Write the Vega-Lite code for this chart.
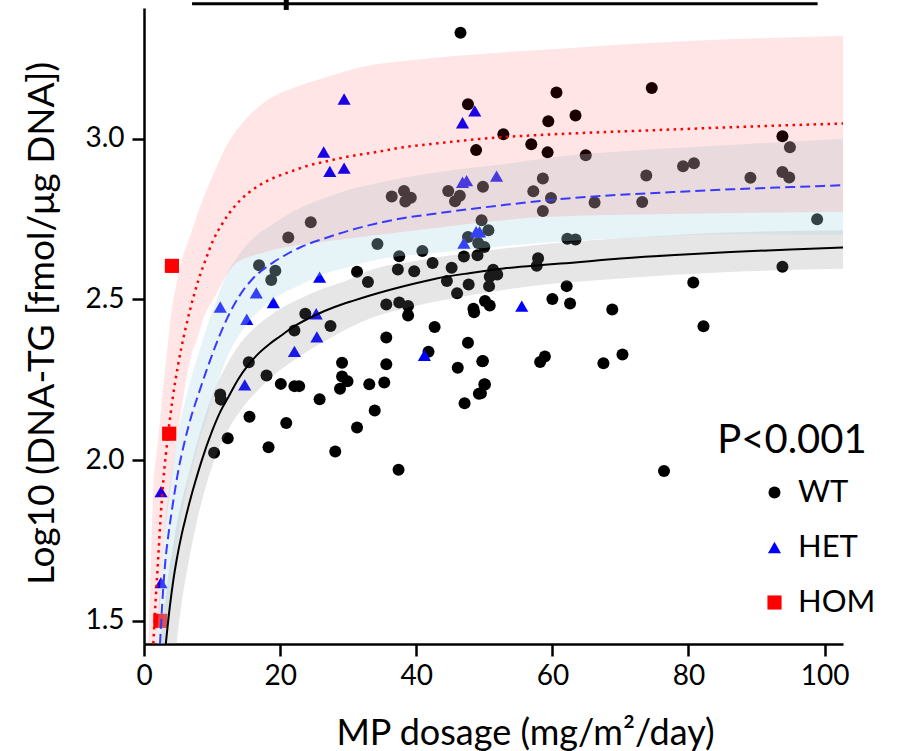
{
  "$schema": "https://vega.github.io/schema/vega-lite/v6.json",
  "width": 699,
  "height": 636,
  "autosize": {"type": "none"},
  "padding": {"left": 144, "top": 8, "right": 56, "bottom": 107},
  "background": "white",
  "config": {"view": {"stroke": null}, "font": "Lato"},
  "datasets": {
    "pts": [
      {"g":"WT","x":46.5,"y":3.329},{"g":"WT","x":47.6,"y":3.107},{"g":"WT","x":48.8,"y":2.964},{"g":"WT","x":60.6,"y":3.143},{"g":"WT","x":59.4,"y":3.054},{"g":"WT","x":63.4,"y":3.072},{"g":"WT","x":52.8,"y":3.013},{"g":"WT","x":56.9,"y":2.982},{"g":"WT","x":59.3,"y":2.957},{"g":"WT","x":64.9,"y":2.948},{"g":"WT","x":74.6,"y":3.157},{"g":"WT","x":93.8,"y":3.007},{"g":"WT","x":94.9,"y":2.973},{"g":"WT","x":73.8,"y":2.885},{"g":"WT","x":79.2,"y":2.914},{"g":"WT","x":80.8,"y":2.923},{"g":"WT","x":89.1,"y":2.878},{"g":"WT","x":93.8,"y":2.896},{"g":"WT","x":94.8,"y":2.879},{"g":"WT","x":49.8,"y":2.85},{"g":"WT","x":58.6,"y":2.876},{"g":"WT","x":57.2,"y":2.836},{"g":"WT","x":59.8,"y":2.815},{"g":"WT","x":58.6,"y":2.775},{"g":"WT","x":66.2,"y":2.801},{"g":"WT","x":73.2,"y":2.803},{"g":"WT","x":98.9,"y":2.749},{"g":"WT","x":49.6,"y":2.746},{"g":"WT","x":50.6,"y":2.715},{"g":"WT","x":62.2,"y":2.688},{"g":"WT","x":63.4,"y":2.686},{"g":"WT","x":57.9,"y":2.628},{"g":"WT","x":57.7,"y":2.604},{"g":"WT","x":93.8,"y":2.601},{"g":"WT","x":51.3,"y":2.592},{"g":"WT","x":51.9,"y":2.577},{"g":"WT","x":50.8,"y":2.57},{"g":"WT","x":50.7,"y":2.541},{"g":"WT","x":62.1,"y":2.541},{"g":"WT","x":80.7,"y":2.552},{"g":"WT","x":50.1,"y":2.495},{"g":"WT","x":50.8,"y":2.481},{"g":"WT","x":60.0,"y":2.501},{"g":"WT","x":62.6,"y":2.487},{"g":"WT","x":68.8,"y":2.468},{"g":"WT","x":82.2,"y":2.416},{"g":"WT","x":49.8,"y":2.308},{"g":"WT","x":58.2,"y":2.305},{"g":"WT","x":58.9,"y":2.322},{"g":"WT","x":67.5,"y":2.301},{"g":"WT","x":70.3,"y":2.328},{"g":"WT","x":50.1,"y":2.235},{"g":"WT","x":49.5,"y":2.208},{"g":"WT","x":76.4,"y":1.966},{"g":"WT","x":36.4,"y":2.82},{"g":"WT","x":38.2,"y":2.837},{"g":"WT","x":38.4,"y":2.804},{"g":"WT","x":39.2,"y":2.816},{"g":"WT","x":44.7,"y":2.837},{"g":"WT","x":46.4,"y":2.822},{"g":"WT","x":45.7,"y":2.805},{"g":"WT","x":47.6,"y":2.694},{"g":"WT","x":34.3,"y":2.672},{"g":"WT","x":40.9,"y":2.65},{"g":"WT","x":37.5,"y":2.634},{"g":"WT","x":49.1,"y":2.675},{"g":"WT","x":50.0,"y":2.663},{"g":"WT","x":47.0,"y":2.633},{"g":"WT","x":49.0,"y":2.637},{"g":"WT","x":42.4,"y":2.613},{"g":"WT","x":37.3,"y":2.593},{"g":"WT","x":39.7,"y":2.587},{"g":"WT","x":45.2,"y":2.598},{"g":"WT","x":44.5,"y":2.557},{"g":"WT","x":47.7,"y":2.546},{"g":"WT","x":46.0,"y":2.519},{"g":"WT","x":32.9,"y":2.554},{"g":"WT","x":35.6,"y":2.484},{"g":"WT","x":37.5,"y":2.49},{"g":"WT","x":38.8,"y":2.479},{"g":"WT","x":48.4,"y":2.471},{"g":"WT","x":38.8,"y":2.45},{"g":"WT","x":48.5,"y":2.46},{"g":"WT","x":42.7,"y":2.414},{"g":"WT","x":35.6,"y":2.381},{"g":"WT","x":47.6,"y":2.365},{"g":"WT","x":41.8,"y":2.337},{"g":"WT","x":35.6,"y":2.298},{"g":"WT","x":49.7,"y":2.307},{"g":"WT","x":46.1,"y":2.287},{"g":"WT","x":35.3,"y":2.241},{"g":"WT","x":33.1,"y":2.236},{"g":"WT","x":50.0,"y":2.236},{"g":"WT","x":49.2,"y":2.206},{"g":"WT","x":47.1,"y":2.177},{"g":"WT","x":33.9,"y":2.154},{"g":"WT","x":37.4,"y":1.97},{"g":"WT","x":23.7,"y":2.455},{"g":"WT","x":27.4,"y":2.417},{"g":"WT","x":22.1,"y":2.403},{"g":"WT","x":15.4,"y":2.304},{"g":"WT","x":18.0,"y":2.263},{"g":"WT","x":20.1,"y":2.237},{"g":"WT","x":22.1,"y":2.23},{"g":"WT","x":22.8,"y":2.23},{"g":"WT","x":11.2,"y":2.204},{"g":"WT","x":11.3,"y":2.188},{"g":"WT","x":15.5,"y":2.135},{"g":"WT","x":20.9,"y":2.115},{"g":"WT","x":12.3,"y":2.068},{"g":"WT","x":10.3,"y":2.023},{"g":"WT","x":18.3,"y":2.04},{"g":"WT","x":28.1,"y":2.027},{"g":"WT","x":29.1,"y":2.303},{"g":"WT","x":29.1,"y":2.26},{"g":"WT","x":29.9,"y":2.245},{"g":"WT","x":28.8,"y":2.222},{"g":"WT","x":25.8,"y":2.189},{"g":"WT","x":31.3,"y":2.101},{"g":"WT","x":24.5,"y":2.74},{"g":"WT","x":21.2,"y":2.692},{"g":"WT","x":16.9,"y":2.606},{"g":"WT","x":19.3,"y":2.589},{"g":"WT","x":18.7,"y":2.56},{"g":"WT","x":31.3,"y":2.586},
      {"g":"HET","x":2.5,"y":1.902},{"g":"HET","x":2.5,"y":1.619},{"g":"HET","x":11.2,"y":2.476},{"g":"HET","x":14.8,"y":2.234},{"g":"HET","x":15.1,"y":2.438},{"g":"HET","x":16.5,"y":2.52},{"g":"HET","x":19.0,"y":2.49},{"g":"HET","x":22.1,"y":2.338},{"g":"HET","x":25.3,"y":2.455},{"g":"HET","x":25.4,"y":2.383},{"g":"HET","x":25.8,"y":2.569},{"g":"HET","x":26.4,"y":2.958},{"g":"HET","x":27.3,"y":2.898},{"g":"HET","x":29.4,"y":2.908},{"g":"HET","x":29.4,"y":3.123},{"g":"HET","x":41.2,"y":2.326},{"g":"HET","x":46.8,"y":3.049},{"g":"HET","x":48.6,"y":3.086},{"g":"HET","x":46.8,"y":2.864},{"g":"HET","x":47.4,"y":2.869},{"g":"HET","x":51.8,"y":2.883},{"g":"HET","x":48.8,"y":2.71},{"g":"HET","x":49.3,"y":2.71},{"g":"HET","x":47.0,"y":2.675},{"g":"HET","x":55.5,"y":2.479},
      {"g":"HOM","x":4.1,"y":2.604},{"g":"HOM","x":3.7,"y":2.082},{"g":"HOM","x":2.4,"y":1.5}
    ],
    "curves": [
      {"c":"WT","x":3.2,"y":1.428},{"c":"WT","x":3.8,"y":1.545},{"c":"WT","x":4.3,"y":1.625},{"c":"WT","x":4.8,"y":1.69},{"c":"WT","x":5.5,"y":1.765},{"c":"WT","x":6.0,"y":1.81},{"c":"WT","x":7.0,"y":1.893},{"c":"WT","x":7.5,"y":1.93},{"c":"WT","x":8.5,"y":2.0},{"c":"WT","x":10,"y":2.09},{"c":"WT","x":11.2,"y":2.15},{"c":"WT","x":12.5,"y":2.2},{"c":"WT","x":13.8,"y":2.25},{"c":"WT","x":15.3,"y":2.295},{"c":"WT","x":17,"y":2.335},{"c":"WT","x":18.5,"y":2.362},{"c":"WT","x":20,"y":2.385},{"c":"WT","x":22,"y":2.415},{"c":"WT","x":25.3,"y":2.452},{"c":"WT","x":28,"y":2.476},{"c":"WT","x":30.8,"y":2.496},{"c":"WT","x":33.2,"y":2.512},{"c":"WT","x":38,"y":2.54},{"c":"WT","x":43,"y":2.565},{"c":"WT","x":48,"y":2.582},{"c":"WT","x":52.8,"y":2.596},{"c":"WT","x":58,"y":2.606},{"c":"WT","x":61.2,"y":2.611},{"c":"WT","x":70,"y":2.627},{"c":"WT","x":78,"y":2.638},{"c":"WT","x":86.2,"y":2.647},{"c":"WT","x":95,"y":2.655},{"c":"WT","x":103,"y":2.661},
      {"c":"HET","x":2.35,"y":1.428},{"c":"HET","x":2.7,"y":1.56},{"c":"HET","x":3.1,"y":1.677},{"c":"HET","x":3.6,"y":1.77},{"c":"HET","x":4.07,"y":1.84},{"c":"HET","x":5.04,"y":1.967},{"c":"HET","x":6,"y":2.06},{"c":"HET","x":7,"y":2.14},{"c":"HET","x":8,"y":2.205},{"c":"HET","x":9.2,"y":2.28},{"c":"HET","x":10.5,"y":2.355},{"c":"HET","x":12.2,"y":2.44},{"c":"HET","x":14,"y":2.51},{"c":"HET","x":15.8,"y":2.56},{"c":"HET","x":19,"y":2.615},{"c":"HET","x":20.7,"y":2.637},{"c":"HET","x":23,"y":2.662},{"c":"HET","x":26.6,"y":2.69},{"c":"HET","x":30,"y":2.713},{"c":"HET","x":34,"y":2.735},{"c":"HET","x":38,"y":2.752},{"c":"HET","x":43,"y":2.767},{"c":"HET","x":48,"y":2.781},{"c":"HET","x":52.8,"y":2.793},{"c":"HET","x":58.2,"y":2.806},{"c":"HET","x":61.2,"y":2.812},{"c":"HET","x":70,"y":2.825},{"c":"HET","x":78,"y":2.834},{"c":"HET","x":86.2,"y":2.842},{"c":"HET","x":95,"y":2.849},{"c":"HET","x":103,"y":2.855},
      {"c":"HOM","x":1.37,"y":1.43},{"c":"HOM","x":1.7,"y":1.56},{"c":"HOM","x":2.1,"y":1.7},{"c":"HOM","x":2.5,"y":1.84},{"c":"HOM","x":2.84,"y":1.935},{"c":"HOM","x":3.57,"y":2.085},{"c":"HOM","x":4.2,"y":2.19},{"c":"HOM","x":5.0,"y":2.295},{"c":"HOM","x":5.5,"y":2.35},{"c":"HOM","x":6.8,"y":2.47},{"c":"HOM","x":8,"y":2.56},{"c":"HOM","x":9,"y":2.62},{"c":"HOM","x":10.2,"y":2.685},{"c":"HOM","x":11.5,"y":2.735},{"c":"HOM","x":12.6,"y":2.77},{"c":"HOM","x":14,"y":2.805},{"c":"HOM","x":16.6,"y":2.85},{"c":"HOM","x":19,"y":2.877},{"c":"HOM","x":21.5,"y":2.897},{"c":"HOM","x":24,"y":2.915},{"c":"HOM","x":27.4,"y":2.932},{"c":"HOM","x":30,"y":2.944},{"c":"HOM","x":34.7,"y":2.96},{"c":"HOM","x":37.2,"y":2.97},{"c":"HOM","x":43,"y":2.985},{"c":"HOM","x":50,"y":3.0},{"c":"HOM","x":60,"y":3.013},{"c":"HOM","x":70,"y":3.022},{"c":"HOM","x":77.4,"y":3.028},{"c":"HOM","x":90,"y":3.038},{"c":"HOM","x":103,"y":3.047}
    ],
    "bands": [
      {"b":"WT","x":2.35,"lo":0.3,"hi":1.428},{"b":"WT","x":3.2,"lo":0.6,"hi":1.58},{"b":"WT","x":3.8,"lo":1.0,"hi":1.677},{"b":"WT","x":4.0,"lo":1.2,"hi":1.7},{"b":"WT","x":4.8,"lo":1.428,"hi":1.8},{"b":"WT","x":5.5,"lo":1.55,"hi":1.87},{"b":"WT","x":6.5,"lo":1.677,"hi":1.95},{"b":"WT","x":8,"lo":1.83,"hi":2.07},{"b":"WT","x":10,"lo":1.98,"hi":2.2},{"b":"WT","x":12,"lo":2.08,"hi":2.29},{"b":"WT","x":14.4,"lo":2.16,"hi":2.37},{"b":"WT","x":17.3,"lo":2.23,"hi":2.43},{"b":"WT","x":20,"lo":2.28,"hi":2.47},{"b":"WT","x":22.7,"lo":2.32,"hi":2.5},{"b":"WT","x":26.6,"lo":2.37,"hi":2.535},{"b":"WT","x":30,"lo":2.41,"hi":2.56},{"b":"WT","x":33.2,"lo":2.44,"hi":2.59},{"b":"WT","x":40,"lo":2.48,"hi":2.62},{"b":"WT","x":50,"lo":2.52,"hi":2.65},{"b":"WT","x":58,"lo":2.544,"hi":2.67},{"b":"WT","x":70,"lo":2.565,"hi":2.69},{"b":"WT","x":86,"lo":2.585,"hi":2.708},{"b":"WT","x":103,"lo":2.595,"hi":2.715},
      {"b":"HET","x":1.86,"lo":0.3,"hi":1.43},{"b":"HET","x":2.35,"lo":0.6,"hi":1.6},{"b":"HET","x":3.1,"lo":1.35,"hi":1.8},{"b":"HET","x":3.6,"lo":1.5,"hi":1.89},{"b":"HET","x":4.07,"lo":1.6,"hi":1.96},{"b":"HET","x":5.04,"lo":1.76,"hi":2.09},{"b":"HET","x":6,"lo":1.88,"hi":2.18},{"b":"HET","x":7,"lo":1.97,"hi":2.26},{"b":"HET","x":8,"lo":2.05,"hi":2.33},{"b":"HET","x":9.2,"lo":2.13,"hi":2.41},{"b":"HET","x":10.5,"lo":2.22,"hi":2.49},{"b":"HET","x":12.2,"lo":2.32,"hi":2.58},{"b":"HET","x":14,"lo":2.39,"hi":2.64},{"b":"HET","x":15.8,"lo":2.44,"hi":2.685},{"b":"HET","x":19,"lo":2.5,"hi":2.735},{"b":"HET","x":23,"lo":2.545,"hi":2.785},{"b":"HET","x":26.6,"lo":2.58,"hi":2.815},{"b":"HET","x":30,"lo":2.6,"hi":2.84},{"b":"HET","x":34,"lo":2.622,"hi":2.86},{"b":"HET","x":43,"lo":2.645,"hi":2.895},{"b":"HET","x":52.8,"lo":2.665,"hi":2.92},{"b":"HET","x":61.2,"lo":2.68,"hi":2.945},{"b":"HET","x":70,"lo":2.69,"hi":2.96},{"b":"HET","x":86.2,"lo":2.703,"hi":2.98},{"b":"HET","x":103,"lo":2.7,"hi":3.0},
      {"b":"HOM","x":0.63,"lo":0.5,"hi":1.428},{"b":"HOM","x":0.9,"lo":0.6,"hi":1.6},{"b":"HOM","x":1.37,"lo":0.9,"hi":1.915},{"b":"HOM","x":1.9,"lo":1.428,"hi":2.03},{"b":"HOM","x":2.35,"lo":1.55,"hi":2.123},{"b":"HOM","x":2.5,"lo":1.62,"hi":2.16},{"b":"HOM","x":3.5,"lo":1.85,"hi":2.36},{"b":"HOM","x":3.8,"lo":1.9,"hi":2.42},{"b":"HOM","x":5.3,"lo":2.13,"hi":2.6},{"b":"HOM","x":7,"lo":2.33,"hi":2.71},{"b":"HOM","x":7.7,"lo":2.37,"hi":2.756},{"b":"HOM","x":9,"lo":2.455,"hi":2.83},{"b":"HOM","x":10.2,"lo":2.5,"hi":2.89},{"b":"HOM","x":12.6,"lo":2.59,"hi":2.995},{"b":"HOM","x":13.4,"lo":2.61,"hi":3.02},{"b":"HOM","x":17.5,"lo":2.645,"hi":3.11},{"b":"HOM","x":22.4,"lo":2.668,"hi":3.161},{"b":"HOM","x":26.6,"lo":2.68,"hi":3.19},{"b":"HOM","x":32.3,"lo":2.695,"hi":3.224},{"b":"HOM","x":40,"lo":2.715,"hi":3.245},{"b":"HOM","x":50.9,"lo":2.742,"hi":3.265},{"b":"HOM","x":58,"lo":2.755,"hi":3.275},{"b":"HOM","x":77,"lo":2.765,"hi":3.3},{"b":"HOM","x":103,"lo":2.772,"hi":3.32}
    ]
  },
  "encoding": {
    "x": {"type": "quantitative", "scale": {"domain": [0, 102.7], "nice": false, "zero": false},
      "axis": {"values": [0, 20, 40, 60, 80, 100], "title": "MP dosage (mg/m²/day)", "grid": false, "tickSize": 12, "tickWidth": 2.5, "domainWidth": 2.5, "domainColor": "black", "tickColor": "black", "labelFontSize": 28, "labelColor": "black", "labelPadding": 6, "labelFont": "Lato", "titleFont": "Lato", "titleFontSize": 36, "titleFontWeight": "normal", "titleColor": "black", "titleX": 381, "titleY": 100, "titleBaseline": "alphabetic", "labelFlush": false}},
    "y": {"type": "quantitative", "scale": {"domain": [1.428, 3.406], "nice": false, "zero": false},
      "axis": {"values": [1.5, 2, 2.5, 3], "format": ".1f", "title": "Log10 (DNA-TG [fmol/μg DNA])", "grid": false, "tickSize": 12, "tickWidth": 2.5, "domainWidth": 2.5, "domainColor": "black", "tickColor": "black", "labelFontSize": 28, "labelColor": "black", "labelPadding": 8, "labelFont": "Lato", "titleFont": "Lato", "titleFontSize": 37, "titleFontWeight": "normal", "titleColor": "black", "titleX": -102, "titleY": 315, "titleBaseline": "middle", "labelFlush": false}}
  },
  "layer": [
    {
      "data": {"name": "pts"},
      "mark": {"type": "point", "filled": true, "opacity": 1, "strokeWidth": 0},
      "encoding": {
        "x": {"field": "x"},
        "y": {"field": "y"},
        "shape": {"field": "g", "type": "nominal", "scale": {"domain": ["WT", "HET", "HOM"], "range": ["circle", "triangle-up", "square"]},
          "legend": {"title": null, "orient": "none", "legendX": 615, "legendY": 469, "labelFontSize": 31, "labelFont": "Lato", "labelColor": "black", "rowPadding": 23, "labelOffset": 8, "symbolStrokeWidth": 0, "symbolOpacity": 1}},
        "color": {"field": "g", "type": "nominal", "scale": {"domain": ["WT", "HET", "HOM"], "range": ["#000000", "#0000ff", "#ff0000"]},
          "legend": {"title": null, "orient": "none", "legendX": 615, "legendY": 469, "labelFontSize": 31, "labelFont": "Lato", "labelColor": "black", "rowPadding": 23, "labelOffset": 8, "symbolStrokeWidth": 0, "symbolOpacity": 1}},
        "size": {"field": "g", "type": "nominal", "scale": {"domain": ["WT", "HET", "HOM"], "range": [144, 200, 95]},
          "legend": {"title": null, "orient": "none", "legendX": 615, "legendY": 469, "labelFontSize": 31, "labelFont": "Lato", "labelColor": "black", "rowPadding": 23, "labelOffset": 8, "symbolStrokeWidth": 0, "symbolOpacity": 1}}
      }
    },
    {
      "data": {"name": "bands"},
      "transform": [{"filter": "datum.b === 'WT'"}],
      "mark": {"type": "area", "color": "#808080", "opacity": 0.2, "clip": true, "interpolate": "monotone"},
      "encoding": {"x": {"field": "x"}, "y": {"field": "lo"}, "y2": {"field": "hi"}}
    },
    {
      "data": {"name": "bands"},
      "transform": [{"filter": "datum.b === 'HET'"}],
      "mark": {"type": "area", "color": "#add8e6", "opacity": 0.3, "clip": true, "interpolate": "monotone"},
      "encoding": {"x": {"field": "x"}, "y": {"field": "lo"}, "y2": {"field": "hi"}}
    },
    {
      "data": {"name": "bands"},
      "transform": [{"filter": "datum.b === 'HOM'"}],
      "mark": {"type": "area", "color": "#ff0000", "opacity": 0.1, "clip": true, "interpolate": "monotone"},
      "encoding": {"x": {"field": "x"}, "y": {"field": "lo"}, "y2": {"field": "hi"}}
    },
    {
      "data": {"name": "curves"},
      "transform": [{"filter": "datum.c === 'WT'"}],
      "mark": {"type": "line", "color": "#000000", "strokeWidth": 2, "clip": true, "interpolate": "monotone"},
      "encoding": {"x": {"field": "x"}, "y": {"field": "y"}}
    },
    {
      "data": {"name": "curves"},
      "transform": [{"filter": "datum.c === 'HET'"}],
      "mark": {"type": "line", "color": "#3a3aff", "strokeWidth": 2, "strokeDash": [10, 5], "clip": true, "interpolate": "monotone"},
      "encoding": {"x": {"field": "x"}, "y": {"field": "y"}}
    },
    {
      "data": {"name": "curves"},
      "transform": [{"filter": "datum.c === 'HOM'"}],
      "mark": {"type": "line", "color": "#ff0000", "strokeWidth": 2.5, "strokeDash": [2.5, 4.5], "clip": true, "interpolate": "monotone"},
      "encoding": {"x": {"field": "x"}, "y": {"field": "y"}}
    },
    {
      "data": {"values": [{"t": "P<0.001", "x": 95.2, "y": 2.023}]},
      "mark": {"type": "text", "font": "Lato", "fontSize": 40, "align": "center", "baseline": "alphabetic", "color": "black"},
      "encoding": {"x": {"field": "x"}, "y": {"field": "y"}, "text": {"field": "t"}}
    },
    {
      "data": {"values": [{"x": 7.06, "x2": 98.97, "y": 3.419}]},
      "mark": {"type": "rule", "color": "black", "strokeWidth": 3},
      "encoding": {"x": {"field": "x"}, "x2": {"field": "x2"}, "y": {"field": "y"}}
    },
    {
      "data": {"values": [{"x": 20.9, "y": 3.431, "y2": 3.4}]},
      "mark": {"type": "rule", "color": "black", "strokeWidth": 5},
      "encoding": {"x": {"field": "x"}, "y": {"field": "y"}, "y2": {"field": "y2"}}
    }
  ]
}
